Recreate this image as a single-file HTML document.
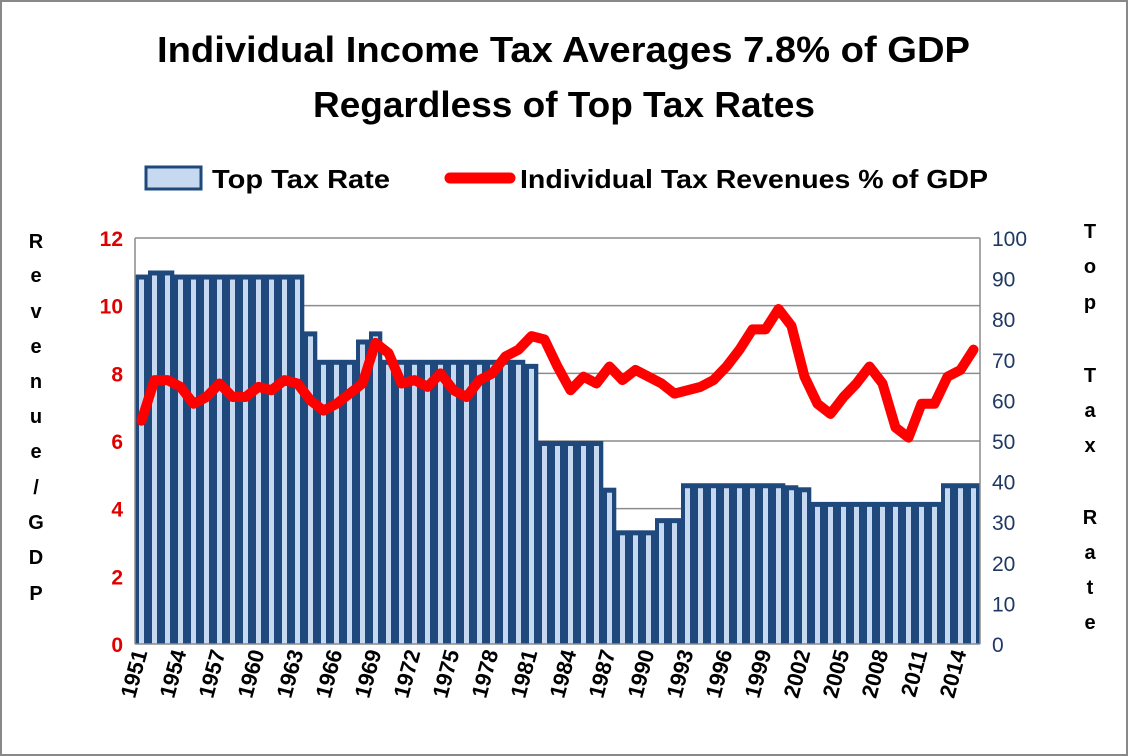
<!DOCTYPE html>
<html><head><meta charset="utf-8"><style>
body{margin:0;background:#fff;}
svg{display:block;font-family:"Liberation Sans",sans-serif;}
</style></head><body>
<svg width="1128" height="756" viewBox="0 0 1128 756">
<rect x="1" y="1" width="1126" height="754" fill="#fff" stroke="#888" stroke-width="2"/>
<text x="157" y="62" textLength="813" lengthAdjust="spacingAndGlyphs" font-size="36" font-weight="bold">Individual Income Tax Averages 7.8% of GDP</text>
<text x="313" y="117" textLength="502" lengthAdjust="spacingAndGlyphs" font-size="36" font-weight="bold">Regardless of Top Tax Rates</text>
<g>
<rect x="146" y="167" width="55" height="22" fill="#c6d9f1" stroke="#1f497d" stroke-width="3"/>
<text x="212" y="188" textLength="178" lengthAdjust="spacingAndGlyphs" font-size="26" font-weight="bold">Top Tax Rate</text>
<line x1="450" y1="178" x2="510" y2="178" stroke="#ff0000" stroke-width="11" stroke-linecap="round"/>
<text x="520" y="188" textLength="468" lengthAdjust="spacingAndGlyphs" font-size="26" font-weight="bold">Individual Tax Revenues % of GDP</text>
</g>
<g id="grid"></g><g id="bars"></g><g id="line"></g><g id="axes"></g>
<g font-size="20" font-weight="bold" text-anchor="middle">
<text x="36" y="248">R</text><text x="36" y="282">e</text><text x="36" y="318">v</text><text x="36" y="353">e</text><text x="36" y="388">n</text><text x="36" y="423">u</text><text x="36" y="458">e</text><text x="36" y="494">/</text><text x="36" y="529">G</text><text x="36" y="564">D</text><text x="36" y="600">P</text>
</g>
<g font-size="20" font-weight="bold" text-anchor="middle">
<text x="1090" y="238">T</text><text x="1090" y="273">o</text><text x="1090" y="309">p</text><text x="1090" y="382">T</text><text x="1090" y="417">a</text><text x="1090" y="452">x</text><text x="1090" y="524">R</text><text x="1090" y="559">a</text><text x="1090" y="594">t</text><text x="1090" y="629">e</text>
</g>
</svg>
<script>
const years=[];for(let y=1951;y<=2015;y++)years.push(y);
const topRates=[91,92,92,91,91,91,91,91,91,91,91,91,91,77,70,70,70,75,77,70,70,70,70,70,70,70,70,70,70,70,69,50,50,50,50,50,38.5,28,28,28,31,31,39.6,39.6,39.6,39.6,39.6,39.6,39.6,39.6,39.1,38.6,35,35,35,35,35,35,35,35,35,35,39.6,39.6,39.6];
const revenue=[6.6,7.8,7.8,7.6,7.1,7.3,7.7,7.3,7.3,7.6,7.5,7.8,7.7,7.2,6.9,7.1,7.4,7.7,8.9,8.6,7.7,7.8,7.6,8.0,7.5,7.3,7.8,8.0,8.5,8.7,9.1,9.0,8.2,7.5,7.9,7.7,8.2,7.8,8.1,7.9,7.7,7.4,7.5,7.6,7.8,8.2,8.7,9.3,9.3,9.9,9.4,7.9,7.1,6.8,7.3,7.7,8.2,7.7,6.4,6.1,7.1,7.1,7.9,8.1,8.7];
const leftTicks=[0,2,4,6,8,10,12];
const rightTicks=[0,10,20,30,40,50,60,70,80,90,100];
const X0=135,X1=980,YT=238,YB=644,NS="http://www.w3.org/2000/svg";
const bw=(X1-X0)/years.length;
const xb=i=>X0+i*bw;
const yL=v=>YB-(v/12)*(YB-YT);
const yR=v=>YB-(v/100)*(YB-YT);
function mk(t,a,p){const e=document.createElementNS(NS,t);for(const k in a)e.setAttribute(k,a[k]);p.appendChild(e);return e;}
const grid=document.getElementById('grid'),bars=document.getElementById('bars'),line=document.getElementById('line'),axes=document.getElementById('axes');
leftTicks.forEach(v=>{if(v>0){const g=mk('line',{x1:X0,x2:X1,y1:yL(v),y2:yL(v),stroke:'#8c8c8c','stroke-width':1.5},grid);

}
const t=mk('text',{x:X0-12,y:yL(v)+8,'text-anchor':'end','font-size':21,'font-weight':'bold',fill:'#e00000'},axes);t.textContent=v;

});
rightTicks.forEach(v=>{const t=mk('text',{x:X1+12,y:yR(v)+8,'font-size':21,fill:'#1f3864'},axes);t.textContent=v;

});
topRates.forEach((r,i)=>{const g=mk('g',{},bars);


mk('rect',{x:xb(i),y:yR(r),width:bw+0.3,height:YB-yR(r),fill:'#1f497d'},g);
mk('rect',{x:xb(i)+4,y:yR(r)+5,width:Math.max(bw-8,1),height:Math.max(YB-yR(r)-5,0),fill:'#c6d9f1'},g);});
const pts=revenue.map((v,i)=>(xb(i)+bw/2)+','+yL(v)).join(' ');
const pl=mk('polyline',{points:pts,fill:'none',stroke:'#ff0000','stroke-width':10,'stroke-linejoin':'round','stroke-linecap':'round'},line);


const la=mk('line',{x1:X0,x2:X0,y1:YT,y2:YB,stroke:'#8c8c8c','stroke-width':1.5},axes);


const ra=mk('line',{x1:X1,x2:X1,y1:YT,y2:YB,stroke:'#8c8c8c','stroke-width':1.5},axes);


const xa=mk('line',{x1:X0,x2:X1,y1:YB,y2:YB,stroke:'#8c8c8c','stroke-width':1.5},axes);


years.forEach((y,i)=>{if((y-1951)%3!==0)return;const cx=xb(i)+bw/2+6,cy=652;
const t=mk('text',{x:cx,y:cy,'text-anchor':'end','font-size':22,'font-weight':'bold',transform:`rotate(-75 ${cx} ${cy})`},axes);t.textContent=y;

});
</script>
</body></html>
